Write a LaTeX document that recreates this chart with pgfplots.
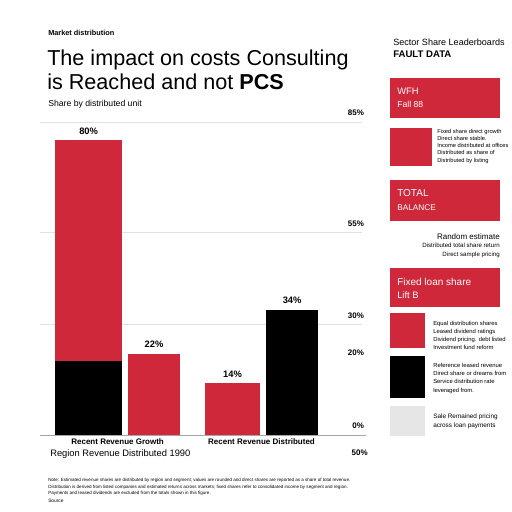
\documentclass[border=0pt]{standalone}
\usepackage{pgfplots}
\pgfplotsset{compat=1.18}
\usepackage{fontspec}
\setmainfont{Liberation Sans}
\definecolor{brand}{RGB}{206,40,58}
\definecolor{softgrey}{RGB}{230,230,230}
\definecolor{rule}{RGB}{225,225,225}

\newcommand{\fs}[1]{\fontsize{#1}{#1}\selectfont}

\begin{document}
\begin{tikzpicture}
% page frame in pixel-like units, y running downwards
\begin{scope}[x=0.75pt,y=-0.75pt]
\path[use as bounding box, fill=white] (0,0) rectangle (512,512);

% headline block
\node[anchor=base west, inner sep=0] at (48,35) {\fs{5.5}\bfseries Market distribution};
\node[anchor=base west, inner sep=0] at (47,65) {\fs{16.2}The impact on costs Consulting};
\node[anchor=base west, inner sep=0] at (47,89) {\fs{16.2}is Reached and not \textbf{PCS}};
\node[anchor=base west, inner sep=0] at (48,106) {\fs{6.5}Share by distributed unit};

% notes under the chart
\node[anchor=base west, inner sep=0] at (50,456) {\fs{7}Region Revenue Distributed 1990};
\node[anchor=base east, inner sep=0] at (368,455) {\fs{6}\bfseries 50\%};
\node[anchor=base west, inner sep=0] at (48,481) {\fs{3.4}Note: Estimated revenue shares are distributed by region and segment; values are rounded and direct shares are reported as a share of total revenue.};
\node[anchor=base west, inner sep=0] at (48,488) {\fs{3.4}Distribution is derived from listed companies and estimated returns across markets; fixed shares refer to consolidated income by segment and region.};
\node[anchor=base west, inner sep=0] at (48,494) {\fs{3.4}Payments and leased dividends are excluded from the totals shown in this figure.};
\node[anchor=base west, inner sep=0] at (48,502) {\fs{3.6}Source};

% side panel
\node[anchor=base west, inner sep=0] at (393,45) {\fs{6.8}Sector Share Leaderboards};
\node[anchor=base west, inner sep=0] at (393,57) {\fs{7.2}\bfseries FAULT DATA};

\fill[brand] (390,78) rectangle (500,118);
\node[anchor=base west, inner sep=0, text=white] at (397,94) {\fs{7}WFH};
\node[anchor=base west, inner sep=0, text=white] at (397,107) {\fs{6.5}Fall 88};

\fill[brand] (390,128) rectangle (432,166);
\foreach \t [count=\i] in {Fixed share direct growth,Direct share stable.,Income distributed at offices,Distributed as share of,Distributed by listing}
  \node[anchor=base west, inner sep=0] at (437,126+7.2*\i) {\fs{4.3}\t};

\fill[brand] (390,180) rectangle (500,221);
\node[anchor=base west, inner sep=0, text=white] at (397,196) {\fs{7.5}TOTAL};
\node[anchor=base west, inner sep=0, text=white] at (397,210) {\fs{6.2}BALANCE};

\node[anchor=base east, inner sep=0] at (500,239) {\fs{6}Random estimate};
\node[anchor=base east, inner sep=0] at (500,247) {\fs{4.6}Distributed total share return};
\node[anchor=base east, inner sep=0] at (500,256) {\fs{4.6}Direct sample pricing};

\fill[brand] (390,268) rectangle (500,307);
\node[anchor=base west, inner sep=0, text=white] at (397,285) {\fs{7.5}Fixed loan share};
\node[anchor=base west, inner sep=0, text=white] at (397,298) {\fs{7}Lift B};

% legend swatches
\fill[brand] (390,313) rectangle (425,348);
\fill[black] (390,356) rectangle (425,398);
\fill[softgrey] (390,406) rectangle (425,436);
\foreach \t [count=\i] in {Equal distribution shares,Leased dividend ratings,Dividend pricing. debt listed,Investment fund reform}
  \node[anchor=base west, inner sep=0] at (433,317+8*\i) {\fs{4.4}\t};
\foreach \t [count=\i] in {Reference leased revenue,Direct share or dreams from,Service distribution rate,leveraged from.}
  \node[anchor=base west, inner sep=0] at (433,359+8.3*\i) {\fs{4.4}\t};
\foreach \t [count=\i] in {Sale Remained pricing,across loan payments}
  \node[anchor=base west, inner sep=0] at (433,409+9*\i) {\fs{4.8}\t};
\end{scope}

\begin{axis}[
  at={(30pt,-326.25pt)}, anchor=south west,
  scale only axis, width=241.5pt, height=234.75pt,
  xmin=0, xmax=10, ymin=0, ymax=85,
  axis x line*=bottom, axis y line*=right,
  x axis line style={draw=black!35, shorten >=-3pt},
  y axis line style={draw=none},
  major tick length=0pt,
  xtick={2.41,6.88},
  xticklabels={Recent Revenue Growth, Recent Revenue Distributed},
  xticklabel style={font=\fs{6}\bfseries, yshift=1pt},
  ytick={0,30,55,85},
  yticklabels={0\%,30\%,55\%,85\%},
  extra y ticks={20},
  extra y tick labels={20\%},
  extra y tick style={grid=none},
  yticklabel style={font=\fs{6}\bfseries, anchor=south east, xshift=5pt, yshift=1pt},
  ymajorgrids, grid style={draw=rule, line width=0.5pt},
  ybar, bar shift=0pt, clip=false,
  /pgf/number format/assume math mode=true,
  nodes near coords={\pgfmathprintnumber{\pgfplotspointmeta}\%},
  nodes near coords style={font=\fs{7}\bfseries, yshift=1pt},
  every axis plot/.append style={draw=none},
]
% stacked first column: total share, then its black base
\addplot[fill=brand, bar width=2.08] coordinates {(1.51,80)};
\addplot[fill=black, bar width=2.08, nodes near coords={}] coordinates {(1.51,20)};
\addplot[fill=brand, bar width=1.62] coordinates {(3.54,22)};
\addplot[fill=brand, bar width=1.71] coordinates {(5.98,14)};
\addplot[fill=black, bar width=1.62] coordinates {(7.83,34)};
\end{axis}
\end{tikzpicture}
\end{document}
